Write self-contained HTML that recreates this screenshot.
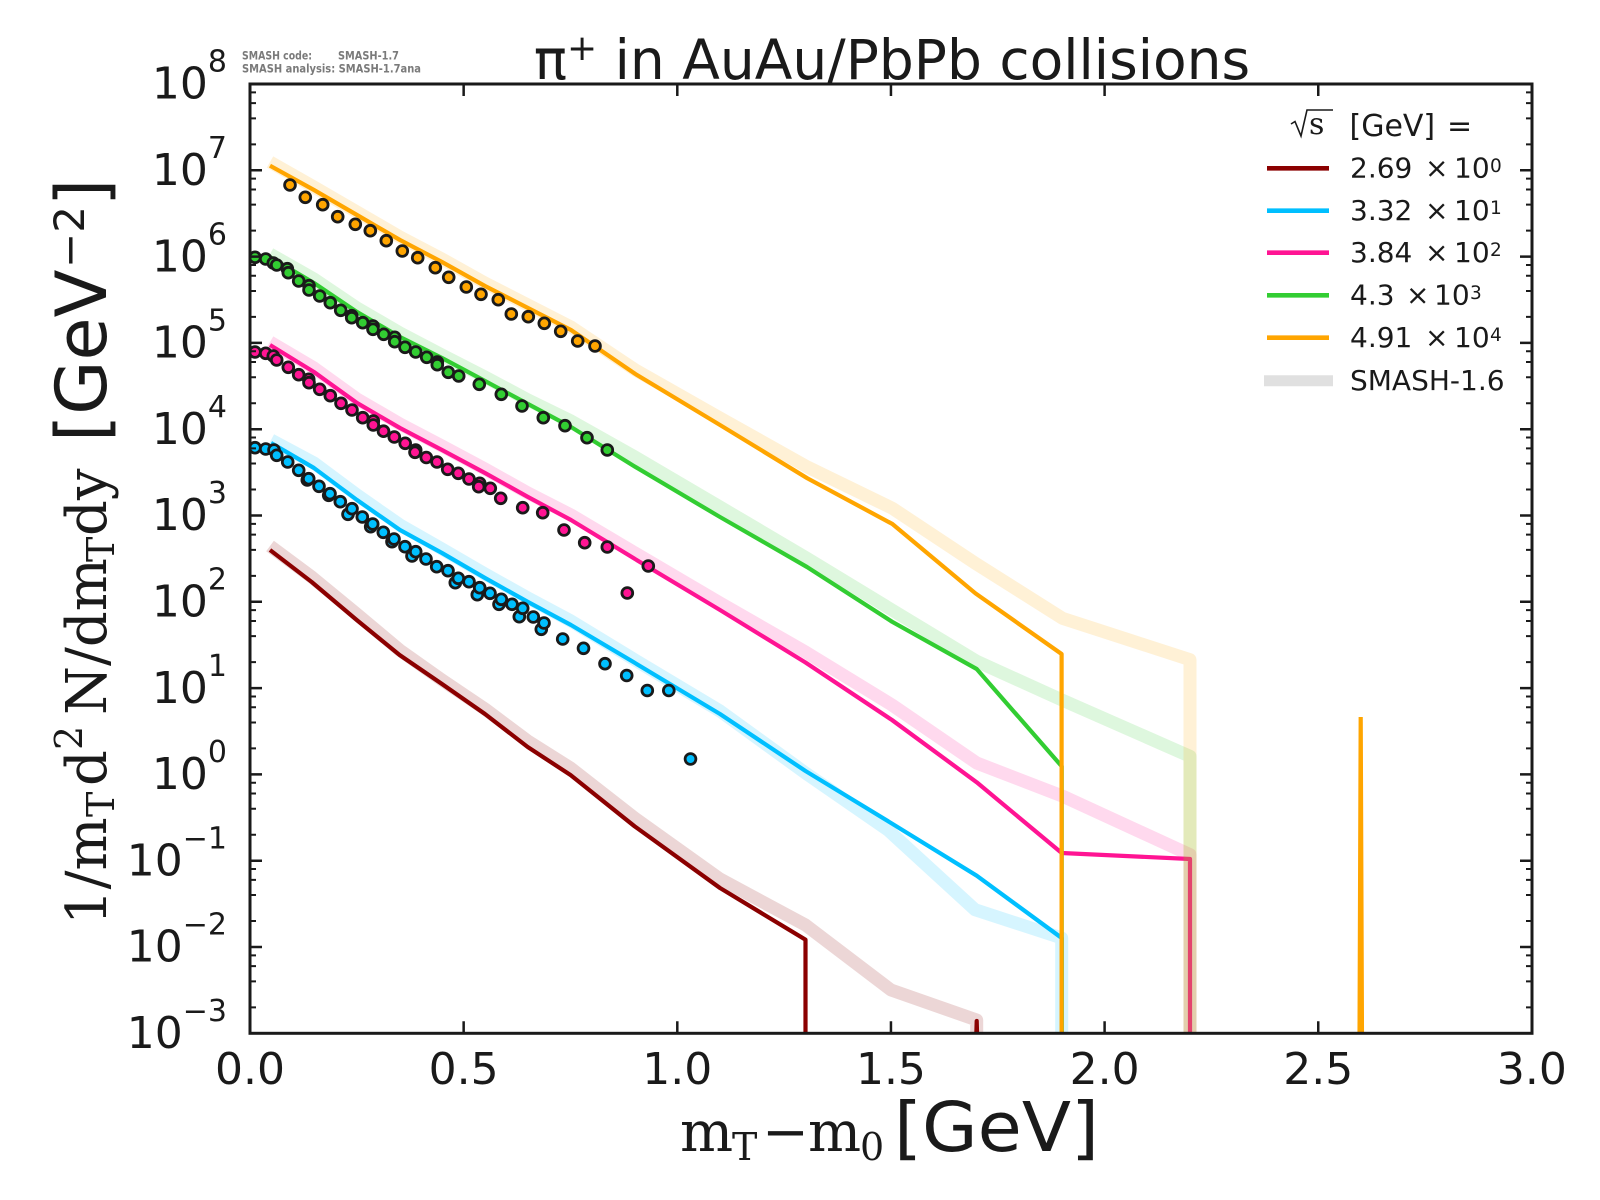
<!DOCTYPE html>
<html><head><meta charset="utf-8"><style>
html,body{margin:0;padding:0;background:#fff}
svg{display:block}
text{font-family:"DejaVu Sans","Liberation Sans",sans-serif;fill:#1a1a1a}
.sr{font-family:"DejaVu Serif","Liberation Serif",serif}
</style></head><body>
<svg width="1600" height="1200" viewBox="0 0 1600 1200" xmlns="http://www.w3.org/2000/svg">
<defs><clipPath id="ax"><rect x="250" y="84" width="1282" height="949.3"/></clipPath></defs>
<rect width="1600" height="1200" fill="#fff"/>

<g clip-path="url(#ax)" fill="none" stroke-linejoin="round">
<!-- brown -->
<polyline stroke="#8b0000" stroke-opacity="0.16" stroke-width="13" points="270,546 311.7,577 356.7,614 399.6,650 442,680 485,709 527.7,741 570.5,768 634.6,818 720,879 805.5,925 891,990 976.7,1020 976.7,1045"/>
<polyline stroke="#8b0000" stroke-width="4.2" points="270,550 311.7,582 356.7,620 399.6,655 442,684 485,714 527.7,747 570.5,775 634.6,826.3 720,888 805.5,939.7 805.5,1045"/>
<polyline stroke="#8b0000" stroke-width="4.2" points="976,1045 976.7,1021 977.4,1045"/>
<!-- blue -->
<polyline stroke="#00bfff" stroke-opacity="0.16" stroke-width="13" points="271,440 314,463 357,495 400,525 442,549 485,574 528,598 571,621 635,660 720,711 805.5,773 888,830 975,909.7 1061.7,938 1061.7,1045"/>
<polyline stroke="#00bfff" stroke-width="4.2" points="271,443 314,468 357,500 400,530 442,553 485,578 528,602 571,625 635,663 720,714 805.5,771 891,823 976.7,875.7 1061.7,938 1061.7,1045"/>
<g fill="#00bfff" stroke="#1a1a1a" stroke-width="2.8">
<circle cx="255" cy="447.7" r="5.4"/><circle cx="265.7" cy="449" r="5.4"/><circle cx="274" cy="450" r="5.4"/><circle cx="276.7" cy="455.3" r="5.4"/><circle cx="287.7" cy="462" r="5.4"/><circle cx="298.7" cy="470.3" r="5.4"/><circle cx="307.3" cy="480" r="5.4"/><circle cx="308.7" cy="478.7" r="5.4"/><circle cx="319" cy="486.3" r="5.4"/><circle cx="328.7" cy="495.3" r="5.4"/><circle cx="330" cy="493.7" r="5.4"/><circle cx="340.3" cy="501.7" r="5.4"/><circle cx="348" cy="514.3" r="5.4"/><circle cx="352" cy="508.7" r="5.4"/><circle cx="362.3" cy="517" r="5.4"/><circle cx="370.7" cy="526.7" r="5.4"/><circle cx="372.7" cy="524" r="5.4"/><circle cx="383.3" cy="532.3" r="5.4"/><circle cx="392" cy="541.7" r="5.4"/><circle cx="394" cy="539" r="5.4"/><circle cx="405" cy="546.7" r="5.4"/><circle cx="412" cy="556" r="5.4"/><circle cx="415.7" cy="551.7" r="5.4"/><circle cx="426" cy="559" r="5.4"/><circle cx="436.7" cy="566.7" r="5.4"/><circle cx="448" cy="570.7" r="5.4"/><circle cx="455.3" cy="582.7" r="5.4"/><circle cx="458.3" cy="578.3" r="5.4"/><circle cx="469" cy="581.7" r="5.4"/><circle cx="477.3" cy="594.7" r="5.4"/><circle cx="479.7" cy="587.7" r="5.4"/><circle cx="490" cy="593.3" r="5.4"/><circle cx="499" cy="604.3" r="5.4"/><circle cx="501.3" cy="599.3" r="5.4"/><circle cx="512" cy="604.3" r="5.4"/><circle cx="519.3" cy="616.7" r="5.4"/><circle cx="522.7" cy="608.3" r="5.4"/><circle cx="533.3" cy="617" r="5.4"/><circle cx="541.3" cy="629.3" r="5.4"/><circle cx="544" cy="623" r="5.4"/><circle cx="562.7" cy="639" r="5.4"/><circle cx="583.5" cy="648.3" r="5.4"/><circle cx="605" cy="663.7" r="5.4"/><circle cx="626.7" cy="675.5" r="5.4"/><circle cx="647.3" cy="690.5" r="5.4"/><circle cx="668.8" cy="690.5" r="5.4"/><circle cx="690.5" cy="759" r="5.4"/>
</g>
<!-- pink -->
<polyline stroke="#ff1493" stroke-opacity="0.16" stroke-width="13" points="270,342 314,368 357,399 400,424 442,446 485,469 528,493 571,515 635,553 720,603 805.5,652 892,705 976.7,763 1063,796.3 1190,854.7 1190,1045"/>
<polyline stroke="#ff1493" stroke-width="4.2" points="270,345 314,372 357,403 400,428 442,450 485,473 528,497 571,520 635,559 720,610 805.5,662.5 892,720 976.7,782.3 1061.7,853 1190,859 1190,1045"/>
<g fill="#ff1493" stroke="#1a1a1a" stroke-width="2.8">
<circle cx="255" cy="352" r="5.4"/><circle cx="265.7" cy="353.3" r="5.4"/><circle cx="273.3" cy="356" r="5.4"/><circle cx="276.7" cy="360" r="5.4"/><circle cx="288.3" cy="367.3" r="5.4"/><circle cx="298.7" cy="374.7" r="5.4"/><circle cx="308.7" cy="379.3" r="5.4"/><circle cx="309" cy="382.7" r="5.4"/><circle cx="319.7" cy="389.3" r="5.4"/><circle cx="330.3" cy="395.7" r="5.4"/><circle cx="341" cy="403.3" r="5.4"/><circle cx="352" cy="410" r="5.4"/><circle cx="362.7" cy="417.7" r="5.4"/><circle cx="373.3" cy="421" r="5.4"/><circle cx="373.3" cy="425" r="5.4"/><circle cx="383.5" cy="431.2" r="5.4"/><circle cx="394.3" cy="437" r="5.4"/><circle cx="405.2" cy="443.3" r="5.4"/><circle cx="415.7" cy="450" r="5.4"/><circle cx="415" cy="452.3" r="5.4"/><circle cx="426.3" cy="457.5" r="5.4"/><circle cx="437" cy="462" r="5.4"/><circle cx="447.7" cy="469.3" r="5.4"/><circle cx="458.3" cy="473.3" r="5.4"/><circle cx="469" cy="479" r="5.4"/><circle cx="479.7" cy="483.3" r="5.4"/><circle cx="478.7" cy="486.7" r="5.4"/><circle cx="490.3" cy="488.3" r="5.4"/><circle cx="500.7" cy="498.3" r="5.4"/><circle cx="522.7" cy="507.7" r="5.4"/><circle cx="542.7" cy="512.7" r="5.4"/><circle cx="564" cy="530" r="5.4"/><circle cx="584.7" cy="542.7" r="5.4"/><circle cx="607.3" cy="547" r="5.4"/><circle cx="648.3" cy="566" r="5.4"/><circle cx="627.3" cy="593" r="5.4"/>
</g>
<!-- green -->
<polyline stroke="#32cd32" stroke-opacity="0.16" stroke-width="13" points="270,254 314,279 357,308 400,333 442,355 485,377 528,400 571,421 635,457 720,507 807,558.3 892,610 976.7,661.3 1062,700 1190,756.3 1190,1045"/>
<polyline stroke="#32cd32" stroke-width="4.2" points="270,257 314,283 357,312 400,337 442,358 485,381 528,404 571,427 635,466.7 720,517 807,567 892,621.7 976.7,669 1061.7,766.3 1061.7,1045"/>
<g fill="#32cd32" stroke="#1a1a1a" stroke-width="2.8">
<circle cx="255" cy="257.3" r="5.4"/><circle cx="265.7" cy="259" r="5.4"/><circle cx="273.3" cy="263" r="5.4"/><circle cx="276.7" cy="265" r="5.4"/><circle cx="287.3" cy="268.7" r="5.4"/><circle cx="288.3" cy="272.7" r="5.4"/><circle cx="298.7" cy="281" r="5.4"/><circle cx="309" cy="285.7" r="5.4"/><circle cx="309" cy="290" r="5.4"/><circle cx="319.7" cy="296" r="5.4"/><circle cx="330.3" cy="302.7" r="5.4"/><circle cx="340.7" cy="310.3" r="5.4"/><circle cx="351.7" cy="315.7" r="5.4"/><circle cx="351.7" cy="317.7" r="5.4"/><circle cx="362.7" cy="322.7" r="5.4"/><circle cx="373" cy="326" r="5.4"/><circle cx="373" cy="329.3" r="5.4"/><circle cx="383.7" cy="334.3" r="5.4"/><circle cx="394.7" cy="337.3" r="5.4"/><circle cx="394.7" cy="341.7" r="5.4"/><circle cx="405" cy="347.3" r="5.4"/><circle cx="415.7" cy="352" r="5.4"/><circle cx="426.7" cy="357.3" r="5.4"/><circle cx="437.3" cy="362" r="5.4"/><circle cx="437.3" cy="364.7" r="5.4"/><circle cx="448.3" cy="372.3" r="5.4"/><circle cx="458.7" cy="376" r="5.4"/><circle cx="479.3" cy="384.3" r="5.4"/><circle cx="501.3" cy="394.3" r="5.4"/><circle cx="522" cy="406" r="5.4"/><circle cx="543.3" cy="417.7" r="5.4"/><circle cx="565" cy="425.7" r="5.4"/><circle cx="587" cy="437.7" r="5.4"/><circle cx="607.3" cy="450" r="5.4"/>
</g>
<!-- orange -->
<polyline stroke="#ffa500" stroke-opacity="0.16" stroke-width="13" points="270,162 314,187 357,212 400,237 442,259 485,283 528,305 571,327 635.4,370 720,418 807.4,467 892.4,508.3 975.4,563.3 1062.4,618.3 1190,659.7 1190,1045"/>
<polyline stroke="#ffa500" stroke-width="4.2" points="270,165.7 314,190 357,215 400,240 442,262 485,286 528,308 571,330 635.4,374 720,425 807.4,478.3 892.4,524 975.4,593.3 1061.6,654 1061.6,1045"/>
<polyline stroke="#ffa500" stroke-width="4.2" stroke-linejoin="miter" points="1359.5,1045 1360.7,717 1362,1045"/>
<g fill="#ffa500" stroke="#1a1a1a" stroke-width="2.8">
<circle cx="290" cy="185" r="5.4"/><circle cx="305.3" cy="197.3" r="5.4"/><circle cx="322.7" cy="204.7" r="5.4"/><circle cx="337.7" cy="216.7" r="5.4"/><circle cx="355.3" cy="224.3" r="5.4"/><circle cx="370.3" cy="230.7" r="5.4"/><circle cx="386.3" cy="240.7" r="5.4"/><circle cx="402.3" cy="251" r="5.4"/><circle cx="417.7" cy="257.7" r="5.4"/><circle cx="435.3" cy="267.7" r="5.4"/><circle cx="448.7" cy="277.3" r="5.4"/><circle cx="466.3" cy="287" r="5.4"/><circle cx="481" cy="294.3" r="5.4"/><circle cx="498.3" cy="299.7" r="5.4"/><circle cx="511.3" cy="314" r="5.4"/><circle cx="528.3" cy="316.7" r="5.4"/><circle cx="544.3" cy="323.3" r="5.4"/><circle cx="560.7" cy="331.3" r="5.4"/><circle cx="577.7" cy="341" r="5.4"/><circle cx="595" cy="346" r="5.4"/>
</g>
</g>

<!-- axes frame -->
<rect x="250" y="84" width="1282" height="949.3" fill="none" stroke="#1a1a1a" stroke-width="3"/>

<!-- ticks -->
<g stroke="#1a1a1a" stroke-width="2.5" fill="none">
<path d="M250 1033.3h12M250 947h12M250 860.7h12M250 774.4h12M250 688.1h12M250 601.8h12M250 515.5h12M250 429.2h12M250 342.9h12M250 256.6h12M250 170.3h12
M1532 1033.3h-12M1532 947h-12M1532 860.7h-12M1532 774.4h-12M1532 688.1h-12M1532 601.8h-12M1532 515.5h-12M1532 429.2h-12M1532 342.9h-12M1532 256.6h-12M1532 170.3h-12"/>
<path stroke-width="2" d="M250 1007.32h6M250 981.34h6M250 966.15h6M250 955.36h6
M250 921.02h6M250 895.04h6M250 879.85h6M250 869.06h6
M250 834.72h6M250 808.74h6M250 793.55h6M250 782.76h6
M250 748.42h6M250 722.44h6M250 707.25h6M250 696.46h6
M250 662.12h6M250 636.14h6M250 620.95h6M250 610.16h6
M250 575.82h6M250 549.84h6M250 534.65h6M250 523.86h6
M250 489.52h6M250 463.54h6M250 448.35h6M250 437.56h6
M250 403.22h6M250 377.24h6M250 362.05h6M250 351.26h6
M250 316.92h6M250 290.94h6M250 275.75h6M250 264.96h6
M250 230.62h6M250 204.64h6M250 189.45h6M250 178.66h6
M250 144.32h6M250 118.34h6M250 103.15h6M250 92.36h6
M1532 1007.32h-6M1532 981.34h-6M1532 966.15h-6M1532 955.36h-6
M1532 921.02h-6M1532 895.04h-6M1532 879.85h-6M1532 869.06h-6
M1532 834.72h-6M1532 808.74h-6M1532 793.55h-6M1532 782.76h-6
M1532 748.42h-6M1532 722.44h-6M1532 707.25h-6M1532 696.46h-6
M1532 662.12h-6M1532 636.14h-6M1532 620.95h-6M1532 610.16h-6
M1532 575.82h-6M1532 549.84h-6M1532 534.65h-6M1532 523.86h-6
M1532 489.52h-6M1532 463.54h-6M1532 448.35h-6M1532 437.56h-6
M1532 403.22h-6M1532 377.24h-6M1532 362.05h-6M1532 351.26h-6
M1532 316.92h-6M1532 290.94h-6M1532 275.75h-6M1532 264.96h-6
M1532 230.62h-6M1532 204.64h-6M1532 189.45h-6M1532 178.66h-6
M1532 144.32h-6M1532 118.34h-6M1532 103.15h-6M1532 92.36h-6"/>
<path d="M463.65 1033.3v-12M677.3 1033.3v-12M890.95 1033.3v-12M1104.6 1033.3v-12M1318.25 1033.3v-12
M463.65 84v12M677.3 84v12M890.95 84v12M1104.6 84v12M1318.25 84v12"/>
</g>

<!-- x tick labels -->
<g font-size="44" text-anchor="middle">
<text x="250" y="1084">0.0</text>
<text x="463.65" y="1084">0.5</text>
<text x="677.3" y="1084">1.0</text>
<text x="890.95" y="1084">1.5</text>
<text x="1104.6" y="1084">2.0</text>
<text x="1318.25" y="1084">2.5</text>
<text x="1531.9" y="1084">3.0</text>
</g>

<!-- y tick labels -->
<g font-size="44" text-anchor="end">
<text x="227" y="98.7">10<tspan font-size="30" dy="-27">8</tspan></text>
<text x="227" y="185">10<tspan font-size="30" dy="-27">7</tspan></text>
<text x="227" y="271.3">10<tspan font-size="30" dy="-27">6</tspan></text>
<text x="227" y="357.6">10<tspan font-size="30" dy="-27">5</tspan></text>
<text x="227" y="443.9">10<tspan font-size="30" dy="-27">4</tspan></text>
<text x="227" y="530.2">10<tspan font-size="30" dy="-27">3</tspan></text>
<text x="227" y="616.5">10<tspan font-size="30" dy="-27">2</tspan></text>
<text x="227" y="702.8">10<tspan font-size="30" dy="-27">1</tspan></text>
<text x="227" y="789.1">10<tspan font-size="30" dy="-27">0</tspan></text>
<text x="227" y="875.4">10<tspan font-size="30" dy="-27">−1</tspan></text>
<text x="227" y="961.7">10<tspan font-size="30" dy="-27">−2</tspan></text>
<text x="227" y="1048">10<tspan font-size="30" dy="-27">−3</tspan></text>
</g>

<!-- title -->
<text x="892" y="79" font-size="55" text-anchor="middle">π<tspan font-size="36" dy="-19">+</tspan><tspan dy="19"> in AuAu/PbPb collisions</tspan></text>

<!-- SMASH info -->
<g font-size="11.5" font-weight="bold">
<text x="242" y="59.3" style="fill:#7a7a7a" textLength="70" lengthAdjust="spacingAndGlyphs">SMASH code:</text>
<text x="338" y="59.3" style="fill:#7a7a7a" textLength="61" lengthAdjust="spacingAndGlyphs">SMASH-1.7</text>
<text x="242" y="72.7" style="fill:#7a7a7a" textLength="179" lengthAdjust="spacingAndGlyphs">SMASH analysis: SMASH-1.7ana</text>
</g>

<!-- x label -->
<g font-size="56">
<text class="sr" x="680" y="1151">m</text>
<text class="sr" x="732" y="1160" font-size="38">T</text>
<text class="sr" x="762" y="1151">−</text>
<text class="sr" x="808" y="1151">m</text>
<text class="sr" x="860" y="1160" font-size="38">0</text>
<text x="894" y="1151" font-size="69" textLength="205" lengthAdjust="spacingAndGlyphs">[GeV]</text>
</g>

<!-- y label -->
<g transform="translate(106,920) rotate(-90)" font-size="56">
<text class="sr" x="-5" y="0">1/m</text>
<text class="sr" x="103" y="8" font-size="38">T</text>
<text class="sr" x="134" y="0">d</text>
<text class="sr" x="170" y="-24" font-size="38">2</text>
<text class="sr" x="205" y="0">N/dm</text>
<text class="sr" x="358" y="8" font-size="38">T</text>
<text class="sr" x="384" y="0">dy</text>
<text x="478" y="0" font-size="70">[GeV</text>
<text x="652" y="-22" font-size="42">−2</text>
<text x="714" y="0" font-size="70">]</text>
</g>

<!-- legend -->
<g>
<polyline points="1291,124 1295,121.5 1301,136 1307,110 1333,110" fill="none" stroke="#1a1a1a" stroke-width="1.6"/>
<text class="sr" x="1309" y="134" font-size="30">s</text>
<text x="1349.5" y="136" font-size="30">[GeV]</text>
<text x="1447" y="136" font-size="30">=</text>
<g stroke-width="4.6">
<line x1="1267" y1="168.3" x2="1329" y2="168.3" stroke="#8b0000"/>
<line x1="1267" y1="210.7" x2="1329" y2="210.7" stroke="#00bfff"/>
<line x1="1267" y1="252.7" x2="1329" y2="252.7" stroke="#ff1493"/>
<line x1="1267" y1="295.3" x2="1329" y2="295.3" stroke="#32cd32"/>
<line x1="1267" y1="337.7" x2="1329" y2="337.7" stroke="#ffa500"/>
</g>
<line x1="1264" y1="380.7" x2="1333" y2="380.7" stroke="#e0e0e0" stroke-width="11"/>
<g font-size="28">
<text x="1350" y="177.5">2.69</text><text x="1425" y="177.5">×</text><text x="1454" y="177.5">10</text><text x="1490" y="171.8" font-size="18.5">0</text>
<text x="1350" y="219.9">3.32</text><text x="1425" y="219.9">×</text><text x="1454" y="219.9">10</text><text x="1490" y="214.2" font-size="18.5">1</text>
<text x="1350" y="261.9">3.84</text><text x="1425" y="261.9">×</text><text x="1454" y="261.9">10</text><text x="1490" y="256.2" font-size="18.5">2</text>
<text x="1350" y="304.5">4.3</text><text x="1406" y="304.5">×</text><text x="1434" y="304.5">10</text><text x="1470" y="298.8" font-size="18.5">3</text>
<text x="1350" y="346.9">4.91</text><text x="1425" y="346.9">×</text><text x="1454" y="346.9">10</text><text x="1490" y="341.2" font-size="18.5">4</text>
<text x="1350" y="390">SMASH-1.6</text>
</g>
</g>
</svg>
</body></html>
